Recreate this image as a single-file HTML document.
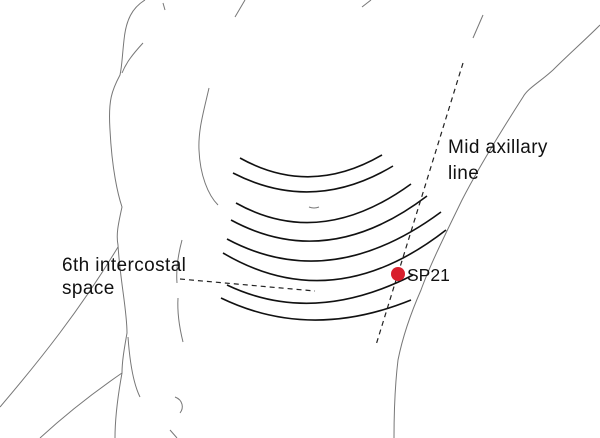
<!DOCTYPE html>
<html><head><meta charset="utf-8"><style>
html,body{margin:0;padding:0;background:#fff;}
svg{display:block;}
text{font-family:"Liberation Sans",sans-serif;font-size:19px;fill:#111;letter-spacing:0.4px;}
</style></head><body>
<svg width="600" height="438" viewBox="0 0 600 438" xmlns="http://www.w3.org/2000/svg">
<g fill="none" stroke="#777" stroke-width="1">
<path d="M145,0 C132,8 126,20 124,40 C122,58 122,66 120,75 C112,90 108,100 110,130 C112,170 118,195 122,207 C118,225 116,235 118,245 C120,280 127,310 127,333 C124,350 122,362 122,373 C118,395 115,420 115,438"/>
<path d="M118,247 C80,310 40,360 0,407"/>
<path d="M122,373 C90,395 65,415 40,438"/>
<path d="M128,337 C130,365 134,385 140,397"/>
<path d="M163,3 L165,10"/>
<path d="M245,0 L235,17"/>
<path d="M371,0 L362,7"/>
<path d="M143,43 C132,55 126,63 122,73"/>
<path d="M209,88 C204,110 198,130 199,150 C200,175 208,195 218,205"/>
<path d="M182,240 C178,255 176,270 177,283"/>
<path d="M178,298 C177,315 180,330 183,342"/>
<path d="M175,397 C183,400 184,408 180,413"/>
<path d="M170,430 L177,438"/>
<path d="M600,25 C585,40 568,55 553,70 C540,82 528,88 523,97 C505,125 480,165 462,200 C445,235 430,265 421,290 C410,315 402,340 398,360 C395,385 394,410 394,438"/>
<path d="M483,15 L473,38"/>
<path d="M309,207 Q314,209 319,207"/>
</g>
<g fill="none" stroke="#111" stroke-width="1.6">
<path d="M240,158 Q310,197 382,155"/>
<path d="M233,173 Q313,214 393,166"/>
<path d="M236,203 Q320,250 411,184"/>
<path d="M231,220 Q327,272 427,196"/>
<path d="M227,239 Q330,294 441,212"/>
<path d="M223,253 Q333,318 446,230"/>
<path d="M227,285 Q313,326 413,275"/>
<path d="M221,298 Q310,341 411,300"/>
</g>
<g fill="none" stroke="#222" stroke-width="1.2" stroke-dasharray="5,4">
<path d="M463,63 L376,345"/>
<path d="M180,279 L315,291"/>
</g>
<circle cx="398" cy="274" r="7" fill="#d81f2c"/>
<text x="407" y="281" style="font-size:17.5px;letter-spacing:0">SP21</text>
<text x="448" y="153">Mid axillary</text>
<text x="448" y="179">line</text>
<text x="62" y="271">6th intercostal</text>
<text x="62" y="294">space</text>
</svg>
</body></html>
